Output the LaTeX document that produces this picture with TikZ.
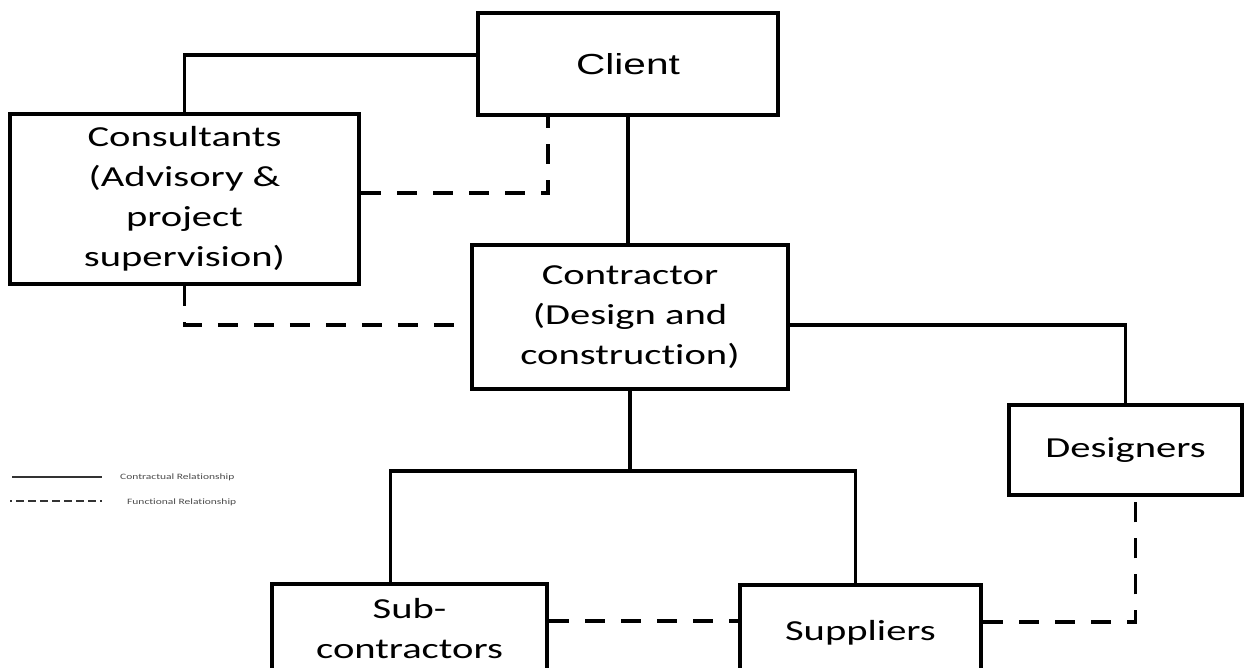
\documentclass[tikz,border=0pt]{standalone}
\usepackage{fontspec}
\setmainfont[FakeStretch=1.4,Ligatures=NoCommon]{Carlito}
\newfontfamily\clientfont[FakeStretch=1.4]{Liberation Sans}
\tikzset{
  box/.style={draw, line width=4.5pt, rectangle, inner sep=0pt, align=center,
              font=\fontsize{29}{40}\selectfont},
  conn/.style={line width=3.5pt},
  func/.style={line width=3.8pt, dash pattern=on 20pt off 16pt},
  legtext/.style={anchor=west, inner sep=0pt, text=black!70,
              font=\fontsize{8.2}{9}\selectfont},
}
\begin{document}
\begin{tikzpicture}[x=1pt,y=-1pt]
\clip (0,0) rectangle (1247,668);
\fill[white] (0,0) rectangle (1247,668);

% boxes
\node[box, minimum width=300pt, minimum height=102pt, font=\clientfont\fontsize{29}{40}\selectfont] (client) at (628,64) {Client};
\node[box, minimum width=349pt, minimum height=170pt] (cons) at (184.5,199) {Consultants\\(Advisory \&\\project\\supervision)};
\node[box, minimum width=316pt, minimum height=144pt] (contr) at (630,317) {Contractor\\(Design and\\construction)};
\node[box, minimum width=233pt, minimum height=90pt] (des) at (1125.5,450) {Designers};
\node[box, minimum width=275pt, minimum height=90pt] (sub) at (409.5,629) {Sub-\\contractors};
\node[box, minimum width=241pt, minimum height=95pt] (sup) at (860.5,632.5) {Suppliers};

% contractual relationships
\draw[conn] (cons.north) |- ([yshift=9pt]client.west);
\draw[conn] (client.south) -- (client.south |- contr.north);
\draw[conn] ([yshift=-8pt]contr.east) -| (des.north);
\coordinate (bus) at (630,471);
\draw[conn] (contr.south) -- (bus);
\draw[conn] ([xshift=-19pt]sub.north) |- (bus) -| ([xshift=-5pt]sup.north);

% functional relationships
\draw[func] ([yshift=6pt]cons.east) -| ([xshift=-80pt]client.south);
\draw[func] (cons.south) |- ([yshift=-8pt]contr.west);
\draw[func] ([yshift=8pt]sub.east) -- ([yshift=8pt]sub.east -| sup.west);
\draw[func] ([yshift=10.5pt]sup.east) -| ([xshift=10pt]des.south);

% legend
\coordinate (l1a) at (12,477);
\coordinate (l1b) at (102,477);
\coordinate (l2a) at (10,501);
\coordinate (l2b) at (102,501);
\draw[line width=1.8pt, black!80] (l1a) -- (l1b);
\draw[line width=2pt, black!80, dash pattern=on 8pt off 4pt, dash phase=6pt] (l2a) -- (l2b);
\node[legtext] (lt1) at (120,477) {Contractual Relationship};
\node[legtext] (lt2) at (127,502) {Functional Relationship};
\end{tikzpicture}
\end{document}
